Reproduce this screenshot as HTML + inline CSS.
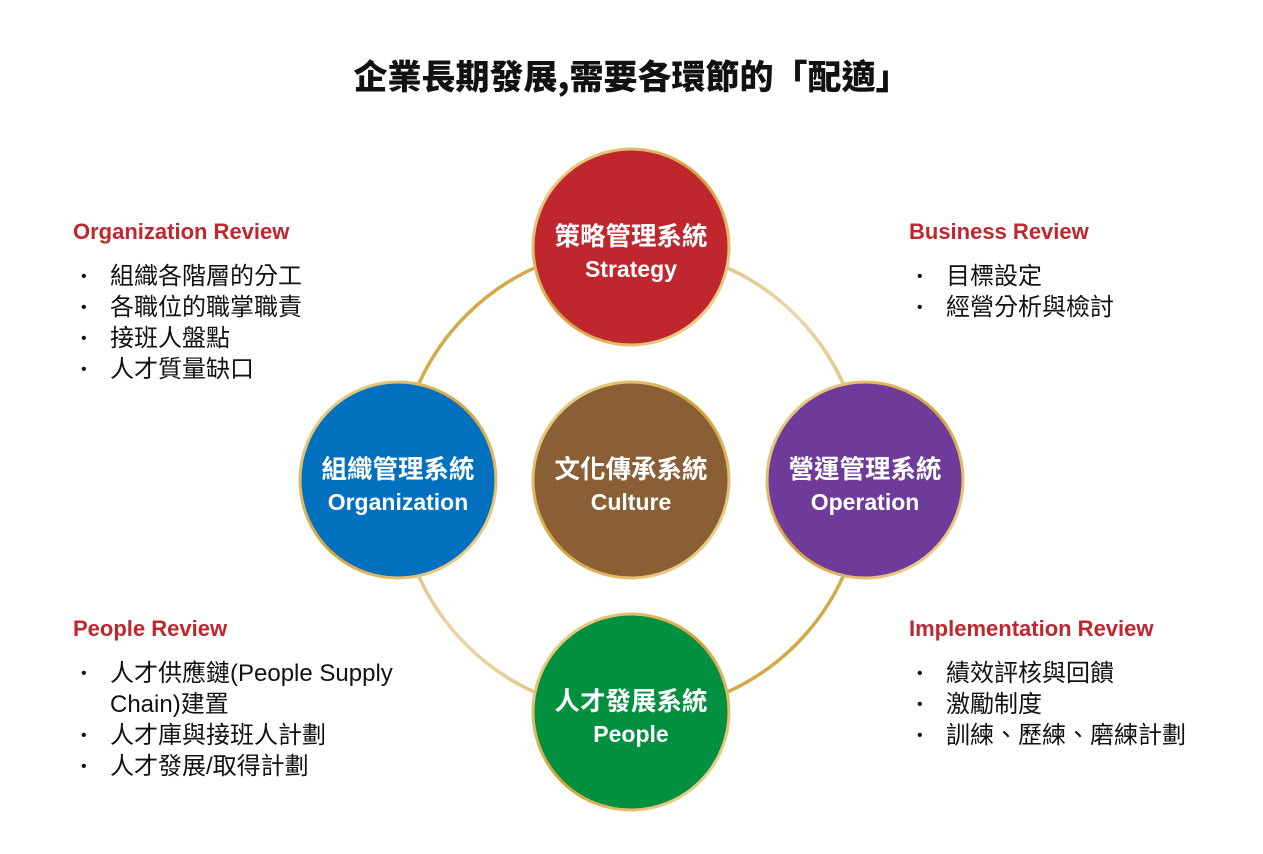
<!DOCTYPE html>
<html><head><meta charset="utf-8"><style>
body{margin:0;width:1263px;height:854px;background:#fff;overflow:hidden;font-family:"Liberation Sans","Noto Sans CJK TC",sans-serif}
h1{position:absolute;top:50px;left:0;width:1263px;text-align:center;margin:0;font-size:34px;font-weight:900;color:#111;font-family:"Noto Sans CJK TC",sans-serif}
.hd{position:absolute;color:#c0262e;font-size:22px;font-weight:bold;font-family:"Liberation Sans","Noto Sans CJK TC",sans-serif}
ul{position:absolute;margin:0;padding:0;list-style:none;font-size:24px;color:#111;line-height:31px;font-family:"Liberation Sans","Noto Sans CJK TC",sans-serif}
li{padding-left:37px;position:relative}
li:before{content:"•";position:absolute;left:8px;font-size:16px}
</style></head><body>
<h1>企業長期發展,需要各環節的「配適」</h1>
<svg width="1263" height="854" style="position:absolute;left:0;top:0">
<defs>
<linearGradient id="g" x1="0" y1="0" x2="1" y2="1">
<stop offset="0" stop-color="#c9961e"/><stop offset="0.5" stop-color="#ecd6a8"/><stop offset="1" stop-color="#c9961e"/>
</linearGradient>
<linearGradient id="r" x1="0" y1="0" x2="1" y2="1">
<stop offset="0" stop-color="#f1d79a"/><stop offset="0.5" stop-color="#d4a13a"/><stop offset="1" stop-color="#f3dca6"/>
</linearGradient>
</defs>
<circle cx="631" cy="480" r="233" fill="none" stroke="url(#g)" stroke-width="3.5"/>
<g stroke="url(#r)" stroke-width="3">
<circle cx="631" cy="247" r="98" fill="#c0262e"/>
<circle cx="398" cy="480" r="98" fill="#0070bf"/>
<circle cx="631" cy="480" r="98" fill="#8a5f35"/>
<circle cx="865" cy="480" r="98" fill="#6e3b9a"/>
<circle cx="631" cy="712" r="98" fill="#00903f"/>
</g>
<g fill="#fff" font-weight="bold" text-anchor="middle" font-family="Liberation Sans,Noto Sans CJK TC,sans-serif">
<text x="631" y="245" font-size="25.5">策略管理系統</text><text x="631" y="277" font-size="23">Strategy</text>
<text x="398" y="478" font-size="25.5">組織管理系統</text><text x="398" y="510" font-size="23">Organization</text>
<text x="631" y="478" font-size="25.5">文化傳承系統</text><text x="631" y="510" font-size="23">Culture</text>
<text x="865" y="478" font-size="25.5">營運管理系統</text><text x="865" y="510" font-size="23">Operation</text>
<text x="631" y="710" font-size="25.5">人才發展系統</text><text x="631" y="742" font-size="23">People</text>
</g>
</svg>
<div class="hd" style="left:73px;top:219px">Organization Review</div>
<ul style="left:73px;top:261px"><li>組織各階層的分工</li><li>各職位的職掌職責</li><li>接班人盤點</li><li>人才質量缺口</li></ul>
<div class="hd" style="left:909px;top:219px">Business Review</div>
<ul style="left:909px;top:261px"><li>目標設定</li><li>經營分析與檢討</li></ul>
<div class="hd" style="left:73px;top:616px">People Review</div>
<ul style="left:73px;top:658px;width:350px"><li>人才供應鏈(People Supply Chain)建置</li><li>人才庫與接班人計劃</li><li>人才發展/取得計劃</li></ul>
<div class="hd" style="left:909px;top:616px">Implementation Review</div>
<ul style="left:909px;top:658px"><li>績效評核與回饋</li><li>激勵制度</li><li>訓練、歷練、磨練計劃</li></ul>
</body></html>
